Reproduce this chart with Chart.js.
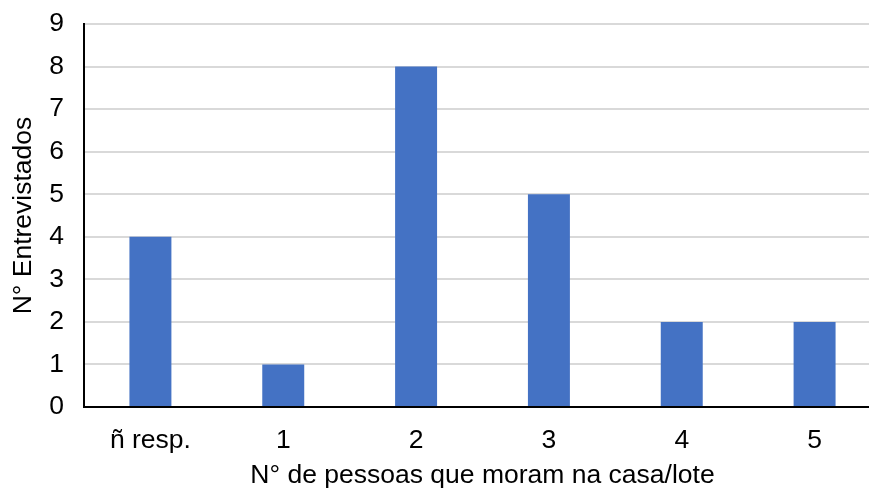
<!DOCTYPE html>
<html>
<head>
<meta charset="utf-8">
<script src="https://cdn.jsdelivr.net/npm/chart.js@4"></script>
<style>
html,body{margin:0;padding:0;background:#fff;overflow:hidden;width:869px;height:492px;}
#wrap{width:881px;height:492px;position:relative;}
</style>
</head>
<body>
<div id="wrap"><canvas id="c" width="881" height="492"></canvas></div>
<script>
const categories = ["ñ resp.", "1", "2", "3", "4", "5"];
const values = [4, 1, 8, 5, 2, 2];
const yTicks = [0, 1, 2, 3, 4, 5, 6, 7, 8, 9];
const xTitle = "N° de pessoas que moram na casa/lote";
const yTitle = "N° Entrevistados";

const FONT = "'Liberation Sans', Arial, sans-serif";
const FS = 26.5;
new Chart(document.getElementById('c'), {
  type: 'bar',
  data: {
    labels: categories,
    datasets: [{
      data: values,
      backgroundColor: '#4472C4',
      borderWidth: 0,
      barPercentage: 1,
      categoryPercentage: 0.316
    }]
  },
  options: {
    responsive: false,
    animation: false,
    devicePixelRatio: 1,
    layout: { padding: { top: 24, right: 0, bottom: 0, left: 0 } },
    plugins: { legend: { display: false }, tooltip: { enabled: false } },
    scales: {
      x: {
        grid: { display: false, drawTicks: false },
        border: { color: '#000', width: 2 },
        ticks: { color: '#000', font: { family: FONT, size: FS }, padding: 18, maxRotation: 0 },
        title: { display: true, text: xTitle, color: '#000', font: { family: FONT, size: FS }, padding: 0 },
        afterFit: s => { s.height = 85; s.paddingLeft = 0; s.paddingRight = 0; }
      },
      y: {
        min: 0, max: 9,
        afterBuildTicks: s => { s.ticks = yTicks.map(v => ({ value: v })); },
        grid: { color: '#d9d9d9', lineWidth: 2, drawTicks: false },
        border: { color: '#000', width: 2 },
        ticks: { color: '#000', font: { family: FONT, size: FS }, padding: 20 },
        title: { display: true, text: yTitle, color: '#000', font: { family: FONT, size: FS }, padding: { top: 8, bottom: 0 } },
        afterFit: s => { s.width = 84; s.paddingTop = 0; s.paddingBottom = 0; }
      }
    }
  }
});
</script>
</body>
</html>
